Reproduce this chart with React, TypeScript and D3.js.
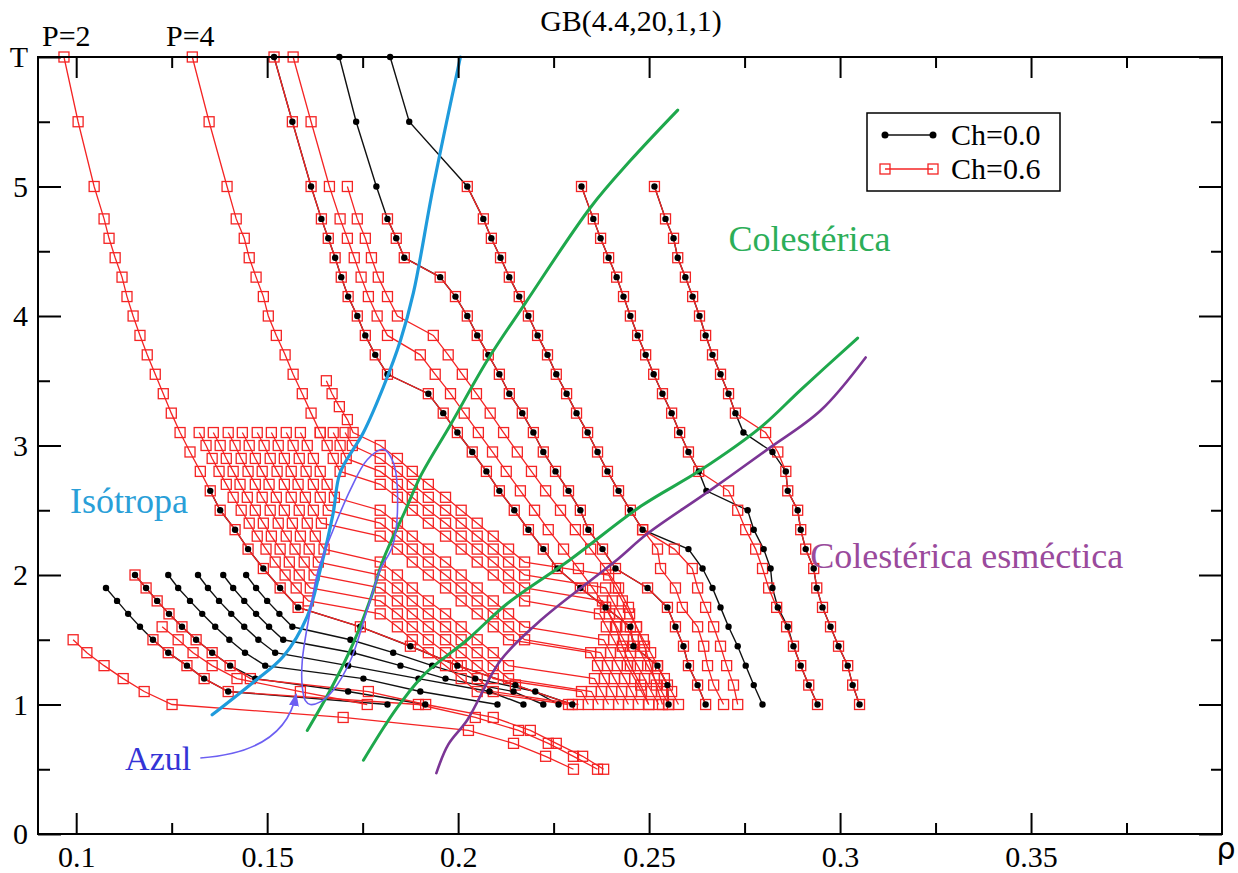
import React, { useEffect, useRef } from "react";
import * as d3 from "d3";

// temperature grids used by the simulation runs
const tHigh = [6, 5.5, 5, 4.75, 4.6, 4.45, 4.3, 4.15, 4, 3.85, 3.7, 3.55, 3.4, 3.25, 3.1, 2.95, 2.8, 2.65, 2.5, 2.35, 2.2, 2.05, 1.9, 1.75, 1.6, 1.45, 1.3, 1.15, 1];
const tLattice = [3.5, 3.4, 3.3, 3.2, 3.1, 3.0, 2.9, 2.8, 2.7, 2.6, 2.5, 2.4, 2.3, 2.2, 2.1, 2.0, 1.9, 1.8, 1.7, 1.6, 1.5, 1.4, 1.3, 1.2, 1.1, 1.0];
const tLow = [2.0, 1.9, 1.8, 1.7, 1.6, 1.5, 1.4, 1.3, 1.2, 1.1, 1.0, 0.9, 0.8, 0.7, 0.6, 0.5];

const _ = null;

// high temperature isobars (tHigh)
const rhoP2Ch06 = [0.0968, 0.1005, 0.1047, 0.1073, 0.1086, 0.1102, 0.112, 0.1133, 0.1149, 0.1167, 0.1186, 0.1207, 0.1228, 0.1249, 0.1272, 0.1298, 0.1325, 0.1351, 0.1377, 0.1416, 0.145, 0.149, 0.1534, 0.1581, 0.1744, 0.1875, 0.1998, 0.215, 0.2299];
const rhoP2Ch00 = [_, _, _, _, _, _, _, _, _, _, _, _, _, _, _, _, _, 0.1351, 0.1377, 0.1416, 0.145, 0.149, 0.1534, 0.1581, 0.1744, 0.1875, 0.1998, 0.215, 0.2299];
const rhoP4Ch06 = [0.1304, 0.1348, 0.1395, 0.1419, 0.144, 0.1453, 0.1471, 0.149, 0.1503, 0.1524, 0.1547, 0.1568, 0.1592, 0.1615, 0.1639, _, _, _, _, _, _, _, _, _, _, _, _, _, _];
const rhoA = [0.1518, 0.1566, 0.1615, 0.1642, 0.166, 0.1678, 0.1694, 0.1712, 0.1736, 0.1757, 0.1783, 0.1815, 0.1922, 0.1961, 0.1998, 0.2037, 0.2074, 0.2108, 0.2147, 0.2184, 0.2223, 0.226, 0.232, 0.2386, 0.2451, 0.2459, 0.2522, 0.2548, 0.2551];
const rhoBCh06 = [0.1568, 0.1615, 0.1663, 0.1691, 0.171, 0.1728, 0.1746, 0.1765, 0.1788, 0.1815, 0.1901, 0.194, 0.198, 0.2016, 0.2053, 0.209, 0.2126, 0.2163, 0.22, 0.2236, 0.2276, 0.2315, 0.2352, 0.2386, 0.2412, 0.243, 0.2451, 0.2478, 0.2499];
const rhoCCh06 = [_, _, 0.171, 0.1736, 0.1757, 0.1773, 0.1791, 0.1815, 0.1841, 0.1935, 0.1974, 0.2011, 0.2048, 0.2084, 0.2119, 0.2155, 0.2192, 0.2229, 0.2268, 0.2307, 0.2347, 0.2386, 0.242, 0.2446, 0.2467, 0.2488, 0.2504, 0.2519, 0.2535];
const rhoDCh00 = [0.1689, 0.1733, 0.1786, 0.1815, 0.1838, 0.1859, 0.1953, 0.1993, 0.2024, 0.205, 0.2079, 0.2108, 0.2134, 0.2168, 0.2197, 0.2223, 0.2255, 0.2289, 0.232, 0.2341, 0.2378, 0.2412, 0.2496, 0.2548, 0.2569, 0.259, 0.2603, 0.2627, 0.2648];
const rhoDCh06 = [_, _, _, 0.1815, 0.1838, 0.1859, 0.1953, 0.1993, 0.2024, 0.205, 0.2079, 0.2108, 0.2134, 0.2168, 0.2197, 0.2223, 0.2255, 0.2289, 0.232, 0.2341, 0.2378, 0.2412, 0.2496, 0.2548, 0.2569, 0.259, 0.2603, 0.2627, 0.2648];
const rhoECh00 = [0.1822, 0.1872, 0.2024, 0.2066, 0.2087, 0.2111, 0.2134, 0.216, 0.2184, 0.2208, 0.2234, 0.2257, 0.2284, 0.231, 0.2339, 0.2365, 0.2391, 0.242, 0.2451, 0.2483, 0.2603, 0.264, 0.2666, 0.2687, 0.2708, 0.2732, 0.2753, 0.2774, 0.2797];
const rhoECh06 = [_, _, 0.2024, 0.2066, 0.2087, 0.2111, 0.2134, 0.216, 0.2184, 0.2208, 0.2234, 0.2257, 0.2284, 0.231, 0.2339, 0.2365, 0.2391, 0.242, 0.2451, 0.2483, 0.2522, 0.253, 0.2569, 0.2587, 0.2627, 0.2643, 0.2653, 0.2669, 0.2695];
const rhoFCh00 = [_, _, 0.2323, 0.2354, 0.2373, 0.2394, 0.2415, 0.2433, 0.2451, 0.247, 0.2491, 0.2512, 0.2535, 0.2559, 0.258, 0.2603, 0.263, 0.265, 0.2758, 0.2774, 0.28, 0.2818, 0.2823, 0.2837, 0.2863, 0.2878, 0.2897, 0.2918, 0.2941];
const rhoFCh06 = [_, _, 0.2323, 0.2354, 0.2373, 0.2394, 0.2415, 0.2433, 0.2451, 0.247, 0.2491, 0.2512, 0.2535, 0.2559, 0.258, 0.2603, 0.263, 0.2708, 0.2732, 0.2753, 0.2779, 0.2797, 0.2813, 0.2834, 0.286, 0.2878, 0.2897, 0.2918, 0.2941];
const rhoGCh00 = [_, _, 0.2514, 0.2543, 0.2564, 0.2575, 0.2595, 0.2614, 0.2632, 0.2648, 0.2666, 0.2687, 0.2708, 0.2726, 0.2747, 0.2823, 0.2858, 0.2863, 0.2889, 0.2897, 0.291, 0.2931, 0.2939, 0.2954, 0.2975, 0.2996, 0.302, 0.3033, 0.3051];
const rhoGCh06 = [_, _, 0.2514, 0.2543, 0.2564, 0.2575, 0.2595, 0.2614, 0.2632, 0.2648, 0.2666, 0.2687, 0.2708, 0.2726, 0.2805, 0.2837, 0.2858, 0.2863, 0.2889, 0.2897, 0.291, 0.2931, 0.2939, 0.2954, 0.2975, 0.2996, 0.302, 0.3033, 0.3051];
// a second Ch=0.6 run next to E at low T
const rhoE2Ch06 = [_, _, _, _, _, _, _, _, _, _, _, _, _, _, _, _, _, _, _, 0.2483, 0.2566, 0.2613, 0.2627, 0.2648, 0.2669, 0.2687, 0.2703, 0.2721, 0.2732];

// low pressure runs, Ch=0.6 (tLattice)
const lat0 = [_, _, _, _, 0.1322, 0.134, 0.1356, 0.1374, 0.1393, 0.1411, 0.1432, 0.1453, 0.1474, 0.1497, 0.1521, 0.1547, 0.1576, 0.1608, 0.1796, 0.1841, 0.188, 0.1922, 0.1967, 0.2008, 0.205, 0.2289];
const lat1 = [_, _, _, _, 0.1359, 0.1377, 0.1393, 0.1411, 0.1429, 0.1448, 0.1469, 0.149, 0.1511, 0.1534, 0.1558, 0.1584, 0.1613, 0.1796, 0.1841, 0.188, 0.1922, 0.1967, 0.2008, 0.205, 0.2092, 0.2315];
const lat2 = [_, _, _, _, 0.1398, 0.1416, 0.1432, 0.145, 0.1469, 0.1487, 0.1508, 0.1529, 0.155, 0.1573, 0.1597, 0.1623, 0.1796, 0.1841, 0.188, 0.1922, 0.1967, 0.2008, 0.205, 0.2092, 0.2323, 0.2341];
const lat3 = [_, _, _, _, 0.1435, 0.1453, 0.1469, 0.1487, 0.1505, 0.1524, 0.1545, 0.1566, 0.1587, 0.161, 0.1634, 0.1796, 0.1841, 0.188, 0.1922, 0.1967, 0.2008, 0.205, 0.2092, 0.2132, 0.2349, 0.2367];
const lat4 = [_, _, _, _, 0.1474, 0.1492, 0.1508, 0.1526, 0.1545, 0.1563, 0.1584, 0.1605, 0.1626, 0.1649, 0.1796, 0.1841, 0.188, 0.1922, 0.1967, 0.2008, 0.205, 0.2092, 0.2132, 0.2357, 0.2375, 0.2394];
const lat5 = [_, _, _, _, 0.1511, 0.1529, 0.1545, 0.1563, 0.1581, 0.16, 0.1621, 0.1642, 0.1796, 0.1841, 0.188, 0.1922, 0.1967, 0.2008, 0.205, 0.2092, 0.2132, 0.2347, 0.2365, 0.2383, 0.2402, 0.242];
const lat6 = [_, _, _, _, 0.155, 0.1568, 0.1584, 0.1602, 0.1621, 0.1639, 0.166, 0.1796, 0.1841, 0.188, 0.1922, 0.1967, 0.2008, 0.205, 0.2092, 0.2132, 0.2174, 0.2373, 0.2391, 0.2409, 0.2428, 0.2446];
const lat7 = [_, _, _, _, 0.1587, 0.1605, 0.1621, 0.1639, 0.1657, 0.1676, 0.1796, 0.1841, 0.188, 0.1922, 0.1967, 0.2008, 0.205, 0.2092, 0.2132, 0.2174, 0.2381, 0.2399, 0.2417, 0.2436, 0.2454, 0.2472];
const lat8 = [_, _, _, _, 0.1639, 0.1657, 0.1673, 0.1691, 0.1796, 0.1841, 0.188, 0.1922, 0.1967, 0.2008, 0.205, 0.2092, 0.2132, 0.2174, 0.237, 0.2388, 0.2407, 0.2425, 0.2443, 0.2462, 0.248, 0.2499];
const lat9 = [_, _, _, _, 0.1673, 0.1691, 0.1707, 0.1796, 0.1841, 0.188, 0.1922, 0.1967, 0.2008, 0.205, 0.2092, 0.2132, 0.2174, 0.2378, 0.2396, 0.2415, 0.2433, 0.2451, 0.247, 0.2488, 0.2506, 0.2525];
const lat10 = [_, _, _, _, 0.1704, 0.1723, 0.1796, 0.1841, 0.188, 0.1922, 0.1967, 0.2008, 0.205, 0.2092, 0.2132, 0.2174, 0.2386, 0.2404, 0.2423, 0.2441, 0.2459, 0.2478, 0.2496, 0.2514, 0.2533, 0.2551];
const lat11 = [0.1655, 0.167, 0.1689, 0.171, 0.1725, 0.1796, 0.1841, 0.188, 0.1922, 0.1967, 0.2008, 0.205, 0.2092, 0.2132, 0.2174, 0.2394, 0.2412, 0.243, 0.2449, 0.2467, 0.2485, 0.2504, 0.2522, 0.254, 0.2559, 0.2577];

// low temperature runs (tLow)
const rhoK1 = [_, 0.1078, 0.1107, 0.1136, 0.1167, 0.1201, 0.1241, 0.129, 0.1335, 0.1398, 0.1815, _, _, _, _, _];
const rhoK2 = [0.1154, 0.1183, 0.1212, 0.1243, 0.1277, 0.1314, 0.1356, 0.1403, 0.1469, 0.1712, 0.1914, _, _, _, _, _];
const rhoK3 = [0.1241, 0.1267, 0.1298, 0.133, 0.1364, 0.1401, 0.1442, 0.1495, 0.1752, 0.1901, 0.2103, _, _, _, _, _];
const rhoK4 = [0.1319, 0.1345, 0.1374, 0.1406, 0.144, 0.1477, 0.1521, 0.1712, 0.1896, 0.2082, 0.2171, _, _, _, _, _];
const rhoK5 = [0.1385, 0.1411, 0.144, 0.1471, 0.1505, 0.1542, 0.1725, 0.1849, 0.1967, 0.2145, 0.2223, _, _, _, _, _];
const rhoK6 = [0.1445, 0.1471, 0.15, 0.1532, 0.1566, 0.1718, 0.183, 0.1932, 0.2045, 0.2202, 0.2263, _, _, _, _, _];
const rhoRL0 = [_, _, _, _, _, 0.0992, 0.1028, 0.1073, 0.1123, 0.1178, 0.1251, 0.1699, 0.2027, 0.2145, 0.2229, 0.2302];
const rhoRL1 = [_, _, _, _, _, 0.1201, 0.1241, 0.129, 0.1335, 0.1398, 0.1896, 0.2045, 0.2158, 0.2236, 0.2302, 0.2365];
const rhoRL2 = [0.1154, 0.1183, 0.1212, 0.1243, 0.1277, 0.1314, 0.1356, 0.1403, 0.1456, 0.1765, 0.1915, 0.2092, 0.2189, 0.2257, 0.2326, 0.2381];
const rhoRL3 = [_, _, _, _, 0.1225, 0.1267, 0.1306, 0.1356, 0.1421, 0.1587, 0.1762, _, _, _, _, _];

// phase boundaries
const isoRho = [0.1356, 0.1463, 0.1542, 0.1605, 0.1639, 0.1673, 0.1691, 0.1752, 0.1804, 0.1849, 0.1883, 0.1935, 0.2006];
const isoT = [0.92, 1.17, 1.37, 1.68, 2.04, 2.48, 2.79, 3.1, 3.45, 3.81, 4.18, 5.0, 6.0];
const cholARho = [0.1605, 0.1665, 0.1725, 0.177, 0.1804, 0.1862, 0.1901, 0.198, 0.2077, 0.2176, 0.2347, 0.2451, 0.2575];
const cholAT = [0.8, 1.11, 1.47, 1.81, 2.12, 2.5, 2.76, 3.16, 3.66, 4.1, 4.84, 5.2, 5.59];
const cholBRho = [0.1752, 0.1809, 0.1849, 0.1914, 0.2024, 0.2129, 0.2294, 0.2478, 0.2635, 0.2792, 0.2897, 0.3046];
const cholBT = [0.57, 0.84, 1.01, 1.24, 1.5, 1.78, 2.12, 2.53, 2.81, 3.14, 3.43, 3.83];
const smecRho = [0.1943, 0.1974, 0.2024, 0.2111, 0.2216, 0.2339, 0.2417, 0.2496, 0.2653, 0.281, 0.2949, 0.3067];
const smecT = [0.47, 0.69, 0.88, 1.34, 1.65, 1.94, 2.12, 2.32, 2.64, 2.97, 3.27, 3.68];
const azulRho = [0.1592, 0.1592, 0.1613, 0.1634, 0.1673, 0.1718, 0.1762, 0.1804, 0.183, 0.1841, 0.1828, 0.1796, 0.1762, 0.1718, 0.1673, 0.1639, 0.1613, 0.16];
const azulT = [1.135, 1.34, 1.73, 2.04, 2.35, 2.66, 2.89, 2.97, 2.87, 2.48, 2.22, 2.04, 1.73, 1.34, 1.11, 1.02, 1.0, 1.03];
const azulArrowRho = [0.1325, 0.1547, 0.1576];
const azulArrowT = [0.587, 0.633, 1.081];

const xMajor = [0.1, 0.15, 0.2, 0.25, 0.3, 0.35];
const xMinor = [0.125, 0.175, 0.225, 0.275, 0.325, 0.375];
const xTickLabels = ["0.1", "0.15", "0.2", "0.25", "0.3", "0.35"];
const tMajor = [0, 1, 2, 3, 4, 5, 6];
const tMinor = [0.5, 1.5, 2.5, 3.5, 4.5, 5.5];
const tTickLabels = ["0", "1", "2", "3", "4", "5", "T"];

const blackSeries = [
  { t: tHigh, rho: rhoP2Ch00 },
  { t: tHigh, rho: rhoA },
  { t: tHigh, rho: rhoDCh00 },
  { t: tHigh, rho: rhoECh00 },
  { t: tHigh, rho: rhoFCh00 },
  { t: tHigh, rho: rhoGCh00 },
  { t: tLow, rho: rhoK1 },
  { t: tLow, rho: rhoK2 },
  { t: tLow, rho: rhoK3 },
  { t: tLow, rho: rhoK4 },
  { t: tLow, rho: rhoK5 },
  { t: tLow, rho: rhoK6 },
];

const redSeries = [
  { t: tHigh, rho: rhoP2Ch06 },
  { t: tHigh, rho: rhoP4Ch06 },
  { t: tHigh, rho: rhoA },
  { t: tHigh, rho: rhoBCh06 },
  { t: tHigh, rho: rhoCCh06 },
  { t: tHigh, rho: rhoDCh06 },
  { t: tHigh, rho: rhoECh06 },
  { t: tHigh, rho: rhoE2Ch06 },
  { t: tHigh, rho: rhoFCh06 },
  { t: tHigh, rho: rhoGCh06 },
  ...[lat0, lat1, lat2, lat3, lat4, lat5, lat6, lat7, lat8, lat9, lat10, lat11].map((rho) => ({ t: tLattice, rho })),
  { t: tLow, rho: rhoRL0 },
  { t: tLow, rho: rhoRL1 },
  { t: tLow, rho: rhoRL2 },
  { t: tLow, rho: rhoRL3 },
];

const toPoints = (s: { t: number[]; rho: (number | null)[] }) =>
  s.rho
    .map((r, i) => (r == null ? null : [r, s.t[i]]))
    .filter((p) => p != null) as [number, number][];

const zip = (a: number[], b: number[]) => a.map((v, i) => [v, b[i]] as [number, number]);

const App = () => {
  const svgRef = useRef<SVGSVGElement>(null);

  useEffect(() => {
    const w = 1238;
    const h = 873;
    const svg = d3.select(svgRef.current).attr("width", w).attr("height", h);
    svg.selectAll("*").remove();

    const serif = "'Liberation Serif', 'Times New Roman', serif";
    const red = "#f42424";

    const x = d3.scaleLinear().domain([0.09, 0.4]).range([38, 1222]);
    const y = d3.scaleLinear().domain([0, 6]).range([834, 57]);

    svg.append("rect").attr("width", w).attr("height", h).attr("fill", "#fff");

    const line = d3
      .line<[number, number]>()
      .x((d) => x(d[0]))
      .y((d) => y(d[1]));

    const blackPts = blackSeries.map(toPoints);
    const redPts = redSeries.map(toPoints);

    // lines
    svg
      .append("g")
      .selectAll("path")
      .data(blackPts)
      .join("path")
      .attr("d", (d) => line(d))
      .attr("fill", "none")
      .attr("stroke", "#111")
      .attr("stroke-width", 1.4);

    svg
      .append("g")
      .selectAll("path")
      .data(redPts)
      .join("path")
      .attr("d", (d) => line(d))
      .attr("fill", "none")
      .attr("stroke", red)
      .attr("stroke-width", 1.3);

    // markers
    svg
      .append("g")
      .selectAll("rect")
      .data(redPts.flat())
      .join("rect")
      .attr("x", (d) => x(d[0]) - 5)
      .attr("y", (d) => y(d[1]) - 5)
      .attr("width", 10)
      .attr("height", 10)
      .attr("fill", "none")
      .attr("stroke", red)
      .attr("stroke-width", 1.3);

    svg
      .append("g")
      .selectAll("circle")
      .data(blackPts.flat())
      .join("circle")
      .attr("cx", (d) => x(d[0]))
      .attr("cy", (d) => y(d[1]))
      .attr("r", 3.2)
      .attr("fill", "#000");

    // phase boundaries
    const smooth = d3
      .line<[number, number]>()
      .x((d) => x(d[0]))
      .y((d) => y(d[1]))
      .curve(d3.curveCatmullRom.alpha(0.5));

    const bounds = [
      { pts: zip(isoRho, isoT), color: "#1f9bdc", width: 3.2 },
      { pts: zip(cholARho, cholAT), color: "#1ea84c", width: 3 },
      { pts: zip(cholBRho, cholBT), color: "#1ea84c", width: 3 },
      { pts: zip(smecRho, smecT), color: "#7b3595", width: 2.6 },
    ];
    svg
      .append("g")
      .selectAll("path")
      .data(bounds)
      .join("path")
      .attr("d", (d) => smooth(d.pts))
      .attr("fill", "none")
      .attr("stroke", (d) => d.color)
      .attr("stroke-width", (d) => d.width)
      .attr("stroke-linecap", "round");

    const loop = d3
      .line<[number, number]>()
      .x((d) => x(d[0]))
      .y((d) => y(d[1]))
      .curve(d3.curveCatmullRomClosed.alpha(0.5));
    svg
      .append("path")
      .attr("d", loop(zip(azulRho, azulT)))
      .attr("fill", "none")
      .attr("stroke", "#6c5ff2")
      .attr("stroke-width", 1.6);

    // arrow from "Azul"
    svg
      .append("defs")
      .append("marker")
      .attr("id", "azulHead")
      .attr("markerUnits", "userSpaceOnUse")
      .attr("markerWidth", 14)
      .attr("markerHeight", 10)
      .attr("refX", 12)
      .attr("refY", 5)
      .attr("orient", "auto")
      .append("path")
      .attr("d", "M0,0 L13,5 L0,10 Z")
      .attr("fill", "#6c5ff2");
    const a = zip(azulArrowRho, azulArrowT);
    svg
      .append("path")
      .attr("d", `M${x(a[0][0])},${y(a[0][1])} Q${x(a[1][0])},${y(a[1][1])} ${x(a[2][0])},${y(a[2][1])}`)
      .attr("fill", "none")
      .attr("stroke", "#6c5ff2")
      .attr("stroke-width", 1.6)
      .attr("marker-end", "url(#azulHead)");

    // phase labels
    const labels = [
      { text: "Isótropa", rho: 0.0984, t: 2.48, color: "#2a9fd8" },
      { text: "Colestérica", rho: 0.2708, t: 4.5, color: "#2cae58" },
      { text: "Colestérica esméctica", rho: 0.2922, t: 2.055, color: "#9a4a9c" },
      { text: "Azul", rho: 0.1128, t: 0.494, color: "#3434d6" },
    ];
    svg
      .append("g")
      .selectAll("text")
      .data(labels)
      .join("text")
      .attr("x", (d) => x(d.rho))
      .attr("y", (d) => y(d.t))
      .attr("fill", (d) => d.color)
      .style("font-family", serif)
      .style("font-size", (d) => (d.text === "Azul" ? "34px" : "36px"))
      .text((d) => d.text);

    // frame and axes
    svg
      .append("rect")
      .attr("x", 38)
      .attr("y", 57)
      .attr("width", 1184)
      .attr("height", 777)
      .attr("fill", "none")
      .attr("stroke", "#000")
      .attr("stroke-width", 2);

    const styleAxis = (g: any) => {
      g.select(".domain").remove();
      g.selectAll(".tick line").attr("stroke", "#000").attr("stroke-width", 2);
      g.selectAll("text").style("font-family", serif).style("font-size", "30px").attr("fill", "#000");
    };

    svg
      .append("g")
      .attr("transform", "translate(0,834)")
      .call(d3.axisBottom(x).tickValues(xMajor).tickSize(-21).tickPadding(12).tickFormat((d, i) => xTickLabels[i]))
      .call(styleAxis);
    svg
      .append("g")
      .attr("transform", "translate(0,834)")
      .call(d3.axisBottom(x).tickValues(xMinor).tickSize(-11).tickFormat(() => ""))
      .call(styleAxis);
    svg
      .append("g")
      .attr("transform", "translate(0,57)")
      .call(d3.axisTop(x).tickValues(xMajor).tickSize(-21).tickFormat(() => ""))
      .call(styleAxis);
    svg
      .append("g")
      .attr("transform", "translate(0,57)")
      .call(d3.axisTop(x).tickValues(xMinor).tickSize(-11).tickFormat(() => ""))
      .call(styleAxis);
    svg
      .append("g")
      .attr("transform", "translate(38,0)")
      .call(d3.axisLeft(y).tickValues(tMajor).tickSize(-23).tickPadding(10).tickFormat((d, i) => tTickLabels[i]))
      .call(styleAxis);
    svg
      .append("g")
      .attr("transform", "translate(38,0)")
      .call(d3.axisLeft(y).tickValues(tMinor).tickSize(-12).tickFormat(() => ""))
      .call(styleAxis);
    svg
      .append("g")
      .attr("transform", "translate(1222,0)")
      .call(d3.axisRight(y).tickValues(tMajor).tickSize(-23).tickFormat(() => ""))
      .call(styleAxis);
    svg
      .append("g")
      .attr("transform", "translate(1222,0)")
      .call(d3.axisRight(y).tickValues(tMinor).tickSize(-11).tickFormat(() => ""))
      .call(styleAxis);

    svg
      .append("text")
      .attr("x", 1226)
      .attr("y", 859)
      .attr("text-anchor", "middle")
      .style("font-family", "'DejaVu Sans', sans-serif")
      .style("font-size", "30px")
      .text("ρ");

    svg
      .append("text")
      .attr("x", 631)
      .attr("y", 31)
      .attr("text-anchor", "middle")
      .style("font-family", serif)
      .style("font-size", "30px")
      .text("GB(4.4,20,1,1)");

    svg.append("text").attr("x", 42).attr("y", 46).style("font-family", serif).style("font-size", "30px").text("P=2");
    svg.append("text").attr("x", 166).attr("y", 46).style("font-family", serif).style("font-size", "30px").text("P=4");

    // legend
    const lg = svg.append("g").attr("transform", "translate(867,113)");
    lg.append("rect").attr("width", 193).attr("height", 78).attr("fill", "#fff").attr("stroke", "#000").attr("stroke-width", 1.5);
    lg.append("line").attr("x1", 18).attr("x2", 66).attr("y1", 22).attr("y2", 22).attr("stroke", "#111").attr("stroke-width", 1.4);
    lg.selectAll(".ld").data([18, 66]).join("circle").attr("cx", (d) => d).attr("cy", 22).attr("r", 3.5).attr("fill", "#000");
    lg.append("line").attr("x1", 18).attr("x2", 66).attr("y1", 56).attr("y2", 56).attr("stroke", red).attr("stroke-width", 1.3);
    lg.selectAll(".ls")
      .data([18, 66])
      .join("rect")
      .attr("x", (d) => d - 5)
      .attr("y", 51)
      .attr("width", 10)
      .attr("height", 10)
      .attr("fill", "none")
      .attr("stroke", red)
      .attr("stroke-width", 1.3);
    lg.append("text").attr("x", 84).attr("y", 32).style("font-family", serif).style("font-size", "30px").text("Ch=0.0");
    lg.append("text").attr("x", 84).attr("y", 66).style("font-family", serif).style("font-size", "30px").text("Ch=0.6");
  }, []);

  return <svg ref={svgRef} style={{ position: "absolute", left: 0, top: 0, display: "block" }}></svg>;
};

export default App;
